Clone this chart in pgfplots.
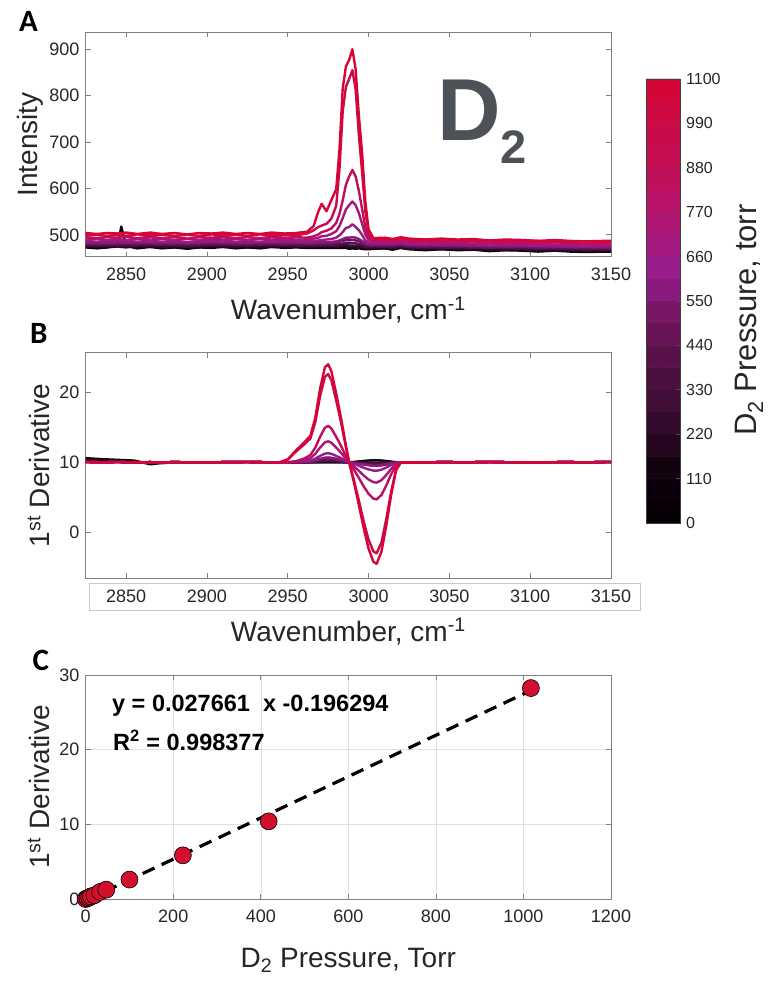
\documentclass[border=0pt]{standalone}
\usepackage{fontspec}
\setmainfont{Liberation Sans}
\newfontfamily\calibri{Carlito}
\usepackage{pgfplots}
\usepackage{pgfplotstable}
\pgfplotsset{compat=1.18}

\definecolor{axgray}{RGB}{128,128,128}
\definecolor{txt}{RGB}{38,38,38}
\definecolor{dgray}{RGB}{77,82,89}
\definecolor{dotred}{RGB}{210,15,45}
\definecolor{c1}{RGB}{10,5,10}
\definecolor{c2}{RGB}{35,8,30}
\definecolor{c3}{RGB}{60,12,52}
\definecolor{c4}{RGB}{85,16,72}
\definecolor{c5}{RGB}{110,20,95}
\definecolor{c6}{RGB}{135,25,120}
\definecolor{c7}{RGB}{150,28,135}
\definecolor{c8}{RGB}{170,22,120}
\definecolor{c9}{RGB}{190,15,95}
\definecolor{c10}{RGB}{205,10,72}
\definecolor{c11}{RGB}{215,5,55}

\pgfplotsset{colormap={d2map}{rgb255(0pt)=(5,0,5) rgb255(110pt)=(15,2,12) rgb255(180pt)=(25,5,20) rgb255(200pt)=(42,9,36) rgb255(260pt)=(55,12,48) rgb255(330pt)=(70,15,58) rgb255(440pt)=(95,18,78) rgb255(520pt)=(120,22,100) rgb255(560pt)=(135,25,120) rgb255(620pt)=(150,28,140) rgb255(700pt)=(165,25,125) rgb255(770pt)=(180,20,110) rgb255(880pt)=(195,15,85) rgb255(990pt)=(205,10,70) rgb255(1100pt)=(215,5,50)}}

\pgfplotstableread{
x a1 a2 a3 a4 a5 a6 a7 a8 a9 a10 a11
2825 473 474 477 478 482 483 487 490 495 499 504
2832 471 475 475 479 480 484 485 491 493 500 502
2838 473 473 477 477 482 482 487 489 495 498 504
2845 478 475 476 479 481 484 486 491 494 500 503
2847 518 474 477 478 482 483 487 490 495 499 504
2850 476 473 478 477 483 482 488 489 496 498 505
2857 471 476 475 480 480 485 485 492 493 501 502
2865 474 474 478 478 483 483 488 490 496 499 505
2872 471 475 475 479 480 484 485 491 493 500 502
2880 473 473 477 477 482 482 487 489 495 498 504
2888 470 475 474 479 479 484 484 491 492 500 501
2895 473 473 477 477 482 482 487 489 495 498 504
2903 472 476 476 480 481 485 486 492 494 501 503
2910 474 474 478 478 483 483 488 490 496 499 505
2918 471 475 475 479 480 484 485 491 493 500 502
2925 473 473 477 477 482 482 487 489 495 498 504
2933 471 476 475 480 480 485 485 492 493 501 502
2940 474 474 478 478 483 483 488 490 496 499 505
2948 472 475 476 479 481 484 486 491 494 500 503
2955 473 474 477 478 482 483 487 490 495 499 504
2962 472 474 476 478 481 483 486 490 494 503 507
2966 472 474 476 478 481 483 487 492 497 510 519
2969 472 474 476 478 482 484 488 494 501 517 551
2971 472 474 476 479 482 484 489 497 506 520 567
2974 472 474 476 479 482 484 490 498 509 524 551
2977 472 474 476 479 482 485 491 502 514 535 575
2980 472 474 477 479 483 486 494 508 526 563 599
2982 472 475 477 480 485 488 499 519 545 641 683
2984 472 475 478 481 487 491 506 536 574 766 815
2986 472 475 478 483 489 494 515 555 608 819 863
2988 470 473 477 482 488 494 517 564 626 836 877
2990 471 474 477 482 489 495 523 572 640 855 900
2992 470 473 477 482 488 494 517 564 626 814 857
2994 471 473 476 480 486 491 510 547 595 715 757
2996 470 473 475 479 484 487 500 524 556 636 677
2998 469 471 474 476 479 482 488 501 516 551 572
3000 469 471 473 475 478 480 483 489 496 504 512
3003 470 471 474 475 478 479 482 485 488 491 493
3010 471 471 475 475 479 479 483 484 489 490 494
3015 468 472 472 476 476 480 480 485 486 491 491
3020 472 472 476 476 480 480 484 485 490 491 495
3025 469 470 473 474 477 478 481 483 487 489 492
3035 467 471 471 475 475 479 479 484 485 490 490
3045 469 469 473 473 477 477 481 482 487 488 492
3055 467 470 471 474 475 478 479 483 485 489 490
3065 468 468 472 472 476 476 480 481 486 487 491
3075 465 469 469 473 473 477 477 482 483 488 488
3085 467 467 471 471 475 475 479 480 485 486 490
3095 466 468 470 472 474 476 478 481 484 487 489
3105 464 468 468 472 472 476 476 481 482 487 487
3115 466 466 470 470 474 474 478 479 484 485 489
3125 464 467 468 471 472 475 476 480 482 486 487
3135 463 467 467 471 471 475 475 480 481 486 486
3145 464 465 468 469 472 473 476 478 482 484 487
3150 464 466 468 470 472 474 476 479 482 485 487
}\tabA

\pgfplotstableread{
x b1 b2 b3 b4 b5 b6 b7 b8 b9 b10 b11
2825 10.6 10.4 10.05 10.05 10.05 10.05 10.05 10.05 10.05 10.05 10.05
2835 10.45 10.3 10.0 10.0 10.0 10.0 10.0 10.0 10.0 10.0 10.0
2845 10.35 10.2 10.05 10.05 10.05 10.05 10.05 10.05 10.05 10.05 10.05
2855 10.25 10.1 9.98 9.98 9.98 9.98 9.98 9.98 9.98 9.98 9.98
2865 9.72 9.9 10.02 10.02 10.02 10.02 10.02 10.02 10.02 10.02 10.02
2870 9.85 9.95 9.98 9.98 9.98 9.98 9.98 9.98 9.98 9.98 9.98
2880 10.0 10.02 10.03 10.03 10.03 10.03 10.03 10.03 10.03 10.03 10.03
2895 9.98 9.97 9.97 9.97 9.97 9.97 9.97 9.97 9.97 9.97 9.97
2910 10.02 10.02 10.02 10.02 10.02 10.02 10.02 10.02 10.02 10.02 10.02
2925 10.04 10.04 10.04 10.04 10.04 10.04 10.04 10.04 10.04 10.04 10.04
2940 10 10 10 10 10 10 10 10 10 10 10
2945 10 10 10 10 10 10 10 10 10 10 10
2950 10 10 10 10 10 10 10 10 10 10.38 10.42
2955 10 10.0 10.01 10.01 10.02 10.02 10.04 10.09 10.16 11.51 11.68
2960 10 10.01 10.02 10.03 10.06 10.07 10.13 10.3 10.52 12.52 12.8
2964 10 10.02 10.04 10.05 10.11 10.14 10.26 10.6 11.04 13.4 13.78
2967 10 10.04 10.08 10.1 10.22 10.28 10.52 11.2 12.08 15.67 16.3
2970 10 10.07 10.14 10.18 10.39 10.49 10.91 12.1 13.64 19.45 20.5
2973 10 10.1 10.19 10.24 10.52 10.67 11.24 12.85 14.94 22.22 23.58
2975 10 10.1 10.2 10.25 10.55 10.7 11.3 13.0 15.2 22.6 24.0
2977 10 10.09 10.19 10.23 10.51 10.65 11.21 12.79 14.84 21.72 23.02
2980 10 10.07 10.14 10.18 10.39 10.49 10.91 12.1 13.64 18.82 19.8
2983 10 10.05 10.09 10.11 10.25 10.32 10.59 11.35 12.34 15.67 16.3
2986 10 10.02 10.03 10.04 10.09 10.12 10.22 10.51 10.88 12.14 12.38
2988 10 10 10 10 10 10 10 10 10 10 10
2991 10.06 9.99 9.98 9.96 9.91 9.9 9.76 9.42 8.94 7.4 7.1
2994 10.13 9.98 9.96 9.92 9.81 9.79 9.5 8.78 7.77 4.54 3.91
2997 10.2 9.97 9.94 9.87 9.71 9.68 9.22 8.12 6.56 1.55 0.58
3000 10.26 9.96 9.92 9.83 9.62 9.58 8.98 7.54 5.5 -1.05 -2.33
3003 10.29 9.95 9.9 9.8 9.56 9.51 8.82 7.16 4.81 -2.74 -4.21
3005 10.3 9.95 9.9 9.8 9.55 9.5 8.8 7.1 4.7 -3.0 -4.5
3008 10.26 9.96 9.91 9.82 9.6 9.56 8.94 7.45 5.34 -1.44 -2.76
3011 10.19 9.97 9.94 9.88 9.72 9.69 9.26 8.2 6.71 1.94 1.01
3014 10.1 9.98 9.97 9.94 9.86 9.84 9.62 9.07 8.3 5.84 5.36
3017 10.02 10.0 9.99 9.98 9.96 9.96 9.9 9.77 9.58 8.96 8.84
3020 10 10 10 10 10 10 10 10 10 10 10
3030 9.96 9.96 9.96 9.96 9.96 9.96 9.96 9.96 9.96 9.96 9.96
3045 10.03 10.03 10.03 10.03 10.03 10.03 10.03 10.03 10.03 10.03 10.03
3060 10 10 10 10 10 10 10 10 10 10 10
3075 10.04 10.04 10.04 10.04 10.04 10.04 10.04 10.04 10.04 10.04 10.04
3090 10 10 10 10 10 10 10 10 10 10 10
3105 9.97 9.97 9.97 9.97 9.97 9.97 9.97 9.97 9.97 9.97 9.97
3120 10.03 10.03 10.03 10.03 10.03 10.03 10.03 10.03 10.03 10.03 10.03
3135 10 10 10 10 10 10 10 10 10 10 10
3150 10.05 10.05 10.05 10.05 10.05 10.05 10.05 10.05 10.05 10.05 10.05
}\tabB

\pgfplotstableread{
p d
0 0
4 0.1
8 0.2
12 0.35
20 0.5
33 0.95
47 1.25
100 2.6
222 5.85
418 10.4
1017 28.25
}\tabC

\pgfplotstableread{
x y m
0 27.5 27.5
1 27.5 27.5
0 82.5 82.5
1 82.5 82.5
0 137.5 137.5
1 137.5 137.5
0 192.5 192.5
1 192.5 192.5
0 247.5 247.5
1 247.5 247.5
0 302.5 302.5
1 302.5 302.5
0 357.5 357.5
1 357.5 357.5
0 412.5 412.5
1 412.5 412.5
0 467.5 467.5
1 467.5 467.5
0 522.5 522.5
1 522.5 522.5
0 577.5 577.5
1 577.5 577.5
0 632.5 632.5
1 632.5 632.5
0 687.5 687.5
1 687.5 687.5
0 742.5 742.5
1 742.5 742.5
0 797.5 797.5
1 797.5 797.5
0 852.5 852.5
1 852.5 852.5
0 907.5 907.5
1 907.5 907.5
0 962.5 962.5
1 962.5 962.5
0 1017.5 1017.5
1 1017.5 1017.5
0 1072.5 1072.5
1 1072.5 1072.5
}\tabBar

\pgfplotsset{
  base/.style={
    scale only axis, width=525.3pt,
    axis line style={draw=axgray, line width=0.8pt},
    tick style={draw=axgray, line width=0.8pt},
    tick align=inside, major tick length=5pt,
    ticklabel style={font=\fontsize{18}{20}\selectfont, text=txt},
    xticklabel style={inner sep=0pt, anchor=north, yshift=-11pt},
    yticklabel style={inner sep=0pt, anchor=east, xshift=-6pt},
    /pgf/number format/assume math mode=true,
    /pgf/number format/1000 sep={},
    scaled ticks=false,
    label style={font=\fontsize{28}{32}\selectfont, text=txt},
    xlabel style={at={(axis description cs:0.5,0)}, anchor=north, inner sep=0pt},
    ylabel style={anchor=south, inner sep=0pt},
  }
}

\begin{document}
\begin{tikzpicture}
\path[use as bounding box] (0,0) rectangle (769pt,983pt);

\node[font=\calibri\bfseries\fontsize{31}{31}\selectfont] at (28.6pt,961.3pt) {A};
\node[font=\calibri\bfseries\fontsize{31}{31}\selectfont] at (38.8pt,649.7pt) {B};
\node[font=\calibri\bfseries\fontsize{31}{31}\selectfont] at (40.8pt,323pt) {C};

% Panel A
\begin{axis}[base, name=A, at={(85.7pt,726.3pt)}, anchor=south west, height=224.4pt,
  xmin=2825, xmax=3150, ymin=453, ymax=936.6,
  xtick={2850,2900,...,3150}, ytick={500,600,...,900},
  xlabel={Wavenumber, cm\textsuperscript{-1}}, xlabel style={yshift=-40pt},
  ylabel={Intensity}, ylabel style={at={(axis description cs:-0.081,0.5)}},
  every axis plot/.append style={line width=2.4pt, line join=round}]
\pgfplotsinvokeforeach{1,...,11}{\addplot[c#1] table[x=x,y=a#1]{\tabA};}
\node[anchor=base west, inner sep=0pt, text=dgray] at (rel axis cs:0.669,0.52)
  {{\fontsize{88}{88}\selectfont\bfseries D}\raisebox{-23pt}{\fontsize{47}{47}\selectfont\bfseries 2}};
\end{axis}

% Panel B
\begin{axis}[base, name=B, at={(85.7pt,404.7pt)}, anchor=south west, height=225.6pt,
  xmin=2825, xmax=3150, ymin=-6.57, ymax=25.66,
  xtick={2850,2900,...,3150}, ytick={0,10,20},
  xlabel={Wavenumber, cm\textsuperscript{-1}}, xlabel style={yshift=-40pt},
  ylabel={1\textsuperscript{st} Derivative}, ylabel style={at={(axis description cs:-0.068,0.5)}},
  every axis plot/.append style={line width=2.4pt, line join=round}]
\pgfplotsinvokeforeach{1,...,11}{\addplot[c#1] table[x=x,y=b#1]{\tabB};}
\end{axis}
\draw[color=black!22, line width=0.8pt] ([xshift=3.3pt,yshift=-4.7pt]B.south west) rectangle ([xshift=29pt,yshift=-31.7pt]B.south east);

% Panel C
\begin{axis}[base, at={(85.7pt,84pt)}, anchor=south west, height=224pt,
  xmin=0, xmax=1200, ymin=0, ymax=30, clip=false,
  xtick={0,200,...,1200}, ytick={0,10,20,30},
  grid=major, grid style={draw=black!12, line width=0.6pt},
  xlabel={D\textsubscript{2} Pressure, Torr}, xlabel style={yshift=-49pt},
  ylabel={1\textsuperscript{st} Derivative}, ylabel style={at={(axis description cs:-0.068,0.5)}}]
\addplot[black, line width=3.2pt, dash pattern=on 13pt off 8pt] coordinates {(0,-0.196) (1017,27.935)};
\addplot[only marks, mark=*, mark size=8.5pt, mark options={fill=dotred, draw=black, line width=0.6pt}] table[x=p,y=d]{\tabC};
\node[anchor=base west, inner sep=0pt, font=\bfseries\fontsize{23.5}{26}\selectfont, text=black] at (rel axis cs:0.05,0.835) {y = 0.027661~~x -0.196294};
\node[anchor=base west, inner sep=0pt, font=\bfseries\fontsize{23.5}{26}\selectfont, text=black] at (rel axis cs:0.052,0.665) {R\textsuperscript{2} = 0.998377};
\end{axis}

% Colorbar (banded, as in the reference)
\begin{axis}[scale only axis, at={(646pt,904pt)}, anchor=north west,
  width=34pt, height=444pt, xmin=-0.5, xmax=1.5, ymin=0, ymax=1100,
  colormap name=d2map, point meta min=0, point meta max=1100,
  xtick=\empty, ytick={0,110,...,1100},
  /pgf/number format/assume math mode=true,
  /pgf/number format/1000 sep={},
  scaled ticks=false,
  axis line style={draw=black!75, line width=0.7pt},
  tick style={draw=black!70, line width=0.7pt},
  tick align=inside, major tick length=4pt, ytick pos=right,
  yticklabel pos=right,
  yticklabel style={font=\fontsize{16}{18}\selectfont, text=txt, inner sep=0pt, anchor=west, xshift=6pt},
  ylabel={D\textsubscript{2} Pressure, torr},
  ylabel style={font=\fontsize{31}{34}\selectfont, text=txt, inner sep=0pt, at={(axis description cs:2.62,0.457)}, anchor=north},
  axis on top]
\addplot[matrix plot*, mesh/cols=2, point meta=explicit] table[x=x, y=y, meta=m]{\tabBar};
\end{axis}
\end{tikzpicture}
\end{document}
